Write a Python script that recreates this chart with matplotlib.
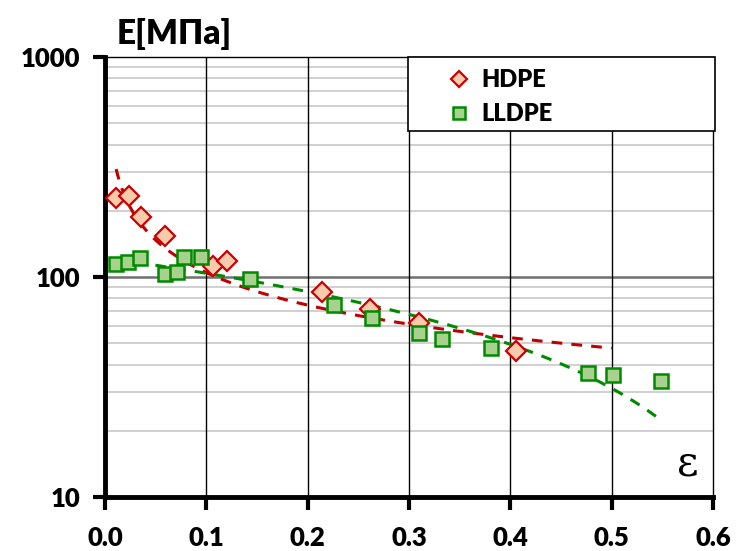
import numpy as np
import matplotlib
matplotlib.use('Agg')
import matplotlib.pyplot as plt
from matplotlib.patches import Rectangle
from matplotlib.ticker import FixedLocator, NullFormatter

plt.rcParams['font.family'] = ['Lato', 'DejaVu Sans']
plt.rcParams['font.weight'] = 'heavy'

# HDPE points (strain, modulus MPa)
hdpe_eps = [0.011, 0.024, 0.036, 0.059, 0.107, 0.120, 0.214, 0.262, 0.310, 0.406]
hdpe_E = [229, 233, 187, 154, 112, 118, 85.5, 71.6, 61.8, 46.1]

# LLDPE points
lldpe_eps = [0.011, 0.023, 0.035, 0.059, 0.071, 0.078, 0.095, 0.143,
             0.226, 0.263, 0.310, 0.333, 0.381, 0.477, 0.501, 0.549]
lldpe_E = [114.5, 117, 122, 103, 105, 123, 123, 98,
           74.6, 65.1, 55.6, 52.2, 47.6, 36.6, 35.9, 33.7]

# trendlines: power law for HDPE, linear for LLDPE
hdpe_trend = (33.8, -0.491)      # E = a * eps^b
hdpe_trend_range = (0.011, 0.5)
lldpe_trend = (122.2, -182.0)    # E = a + b * eps
lldpe_trend_range = (0.011, 0.548)

xticks = [0.0, 0.1, 0.2, 0.3, 0.4, 0.5, 0.6]

fig = plt.figure(figsize=(7.37, 5.51), dpi=100)
ax = fig.add_axes([105/737, 1-497/551, 608/737, 440/551])

ax.set_yscale('log')
ax.set_xlim(0, 0.6)
ax.set_ylim(10, 1000)

# grid
minor = [m * 10**d for d in (1, 2) for m in range(2, 10)]
ax.yaxis.set_minor_locator(FixedLocator(minor))
ax.yaxis.set_minor_formatter(NullFormatter())
ax.tick_params(axis='y', which='minor', length=0)
for v in minor:
    ax.axhline(v, color='#c8c8c8', lw=1.2, zorder=0)
ax.axhline(100, color='#707070', lw=1.8, zorder=0)
for v in xticks[1:-1]:
    ax.axvline(v, color='black', lw=1.0, zorder=0)

# trendlines
t = np.linspace(*hdpe_trend_range, 300)
ax.plot(t, hdpe_trend[0] * t**hdpe_trend[1], ls=(0, (3.5, 3)), color='#c00000', lw=2.2, zorder=2)
t = np.linspace(*lldpe_trend_range, 300)
ax.plot(t, lldpe_trend[0] + lldpe_trend[1] * t, ls=(0, (3.5, 3)), color='#008a00', lw=2.2, zorder=2)

ax.plot(hdpe_eps, hdpe_E, 'D', ms=10.5, mfc='#f8cbad', mec='#cc0000', mew=1.6, zorder=3, label='HDPE')
ax.plot(lldpe_eps, lldpe_E, 's', ms=10, mfc='#a9d18e', mec='#008a00', mew=1.8, zorder=3, label='LLDPE')

ax.set_xticks(xticks)
ax.set_xticklabels(['%.1f' % v for v in xticks])
ax.set_yticks([10, 100, 1000])
ax.set_yticklabels(['10', '100', '1000'])
ax.tick_params(axis='both', which='major', labelsize=18.5, width=3, length=9,
               direction='out', color='black')
ax.tick_params(axis='x', pad=12)
ax.tick_params(axis='y', pad=9)

for s in ('left', 'bottom'):
    ax.spines[s].set_linewidth(3.5)
for s in ('top', 'right'):
    ax.spines[s].set_linewidth(1.0)

# legend with its own frame
leg = ax.legend(loc='upper left', bbox_to_anchor=(0.54, 1.01), frameon=False,
                fontsize=17, handlelength=0.8, handletextpad=0.55,
                labelspacing=0.5, markerscale=0.8, borderaxespad=0.3)
ax.add_patch(Rectangle(((408-105)/608, (497-131)/440), (715-408)/608, 74/440,
                       transform=ax.transAxes, fill=True, fc='white', ec='black',
                       lw=1.2, clip_on=False, zorder=4))
leg.set_zorder(5)

fig.text(117/737, 1-34/551, 'Е[МПа]', fontsize=24, fontweight='heavy', va='center', ha='left')
ax.text(0.575, 14.2, 'ε', fontsize=30, fontweight='normal', family='DejaVu Serif',
        ha='center', va='center', zorder=3,
        bbox=dict(fc='white', ec='none', pad=3))

fig.savefig('out.png', dpi=100)
